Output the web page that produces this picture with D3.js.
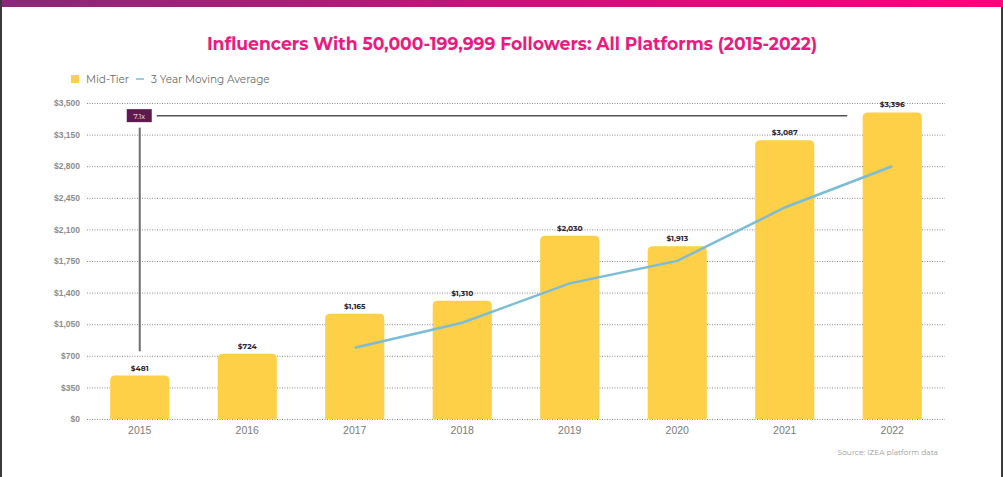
<!DOCTYPE html>
<html>
<head>
<meta charset="utf-8">
<script src="https://cdn.jsdelivr.net/npm/d3@7"></script>
<style>
  body { margin: 0; background: #fff; }
  svg { display: block; font-family: 'Montserrat', 'Lato', 'Open Sans', sans-serif; }
</style>
</head>
<body>
<div class="chart"></div>
<script>
'use strict'

// Data.
const years = ['2015', '2016', '2017', '2018', '2019', '2020', '2021', '2022'];
const midTier = [481, 724, 1165, 1310, 2030, 1913, 3087, 3396];
const movingAvgYears = ['2017', '2018', '2019', '2020', '2021', '2022'];
const movingAvg = [790, 1066, 1502, 1751, 2343, 2799];
const yTicks = [0, 350, 700, 1050, 1400, 1750, 2100, 2450, 2800, 3150, 3500];

let W = 1003, H = 477;
let margin = {top: 103, right: 58, bottom: 58, left: 87};

let svg = d3.select('.chart')
    .append('svg')
    .attr('width', W)
    .attr('height', H);

// Frame: gradient strip on top, dark edges.
let defs = svg.append('defs');
let grad = defs.append('linearGradient').attr('id', 'topbar');
grad.append('stop').attr('offset', '0%').attr('stop-color', '#8a2878');
grad.append('stop').attr('offset', '100%').attr('stop-color', '#ff007c');
svg.append('rect').attr('x', 0).attr('y', 0).attr('width', W).attr('height', 7).attr('fill', 'url(#topbar)');
svg.append('rect').attr('x', 0).attr('y', 0).attr('width', 2).attr('height', H).attr('fill', '#3a3a3a');
svg.append('rect').attr('x', W - 2).attr('y', 7).attr('width', 2).attr('height', H).attr('fill', '#3a3a3a');

// Title.
svg.append('text')
    .attr('x', 512).attr('y', 50)
    .attr('text-anchor', 'middle')
    .style('font-size', '17.2px').style('font-weight', 700)
    .style('fill', '#ea1a80')
    .text('Influencers With 50,000-199,999 Followers: All Platforms (2015-2022)');

// Legend.
let legend = svg.append('g').attr('transform', 'translate(71,75)');
legend.append('rect').attr('width', 8).attr('height', 8).attr('fill', '#fdd047');
legend.append('text').attr('x', 15).attr('y', 8).style('font-size', '10.5px').style('fill', '#6a6a6a').text('Mid-Tier');
legend.append('line').attr('x1', 65).attr('x2', 73).attr('y1', 4).attr('y2', 4).attr('stroke', '#7bbcd6').attr('stroke-width', 1.5);
legend.append('text').attr('x', 80).attr('y', 8).style('font-size', '10.5px').style('fill', '#6a6a6a').text('3 Year Moving Average');

// Scales.
let x = d3.scaleBand()
    .domain(years)
    .range([86, 946])
    .paddingInner(0.45)
    .paddingOuter(0.225);

let y = d3.scaleLinear()
    .domain([0, 3500])
    .range([H - margin.bottom, margin.top]);

// Y axis with dotted grid lines.
let yAxis = d3.axisLeft(y)
    .tickValues(yTicks)
    .tickSize(-(W - margin.right - margin.left))
    .tickPadding(7)
    .tickFormat(d => '$' + d3.format(',')(d));

svg.append('g')
    .attr('class', 'axis yAxis')
    .attr('transform', `translate(${margin.left},0)`)
    .call(yAxis)
    .call(g => g.select('.domain').remove())
    .call(g => g.selectAll('.tick line')
        .attr('stroke', '#8a8a8a')
        .attr('stroke-dasharray', '1,1.5'))
    .call(g => g.selectAll('.tick text')
        .style('font-size', '8.5px').style('font-weight', 600)
        .style('fill', '#8c8c8c').style('font-family', 'inherit'));

// X axis labels.
svg.append('g')
    .attr('class', 'axis xAxis')
    .attr('transform', `translate(0,${H - margin.bottom})`)
    .call(d3.axisBottom(x).tickSize(0).tickPadding(8))
    .call(g => g.select('.domain').remove())
    .call(g => g.selectAll('.tick text')
        .style('font-size', '10.5px')
        .style('fill', '#7a7a7a').style('font-family', 'inherit'));

// Bars with rounded tops.
let r = 5;
function barPath(d, i) {
    let x0 = x(years[i]), x1 = x0 + x.bandwidth();
    let y0 = y(0), y1 = y(d);
    return `M${x0},${y0}V${y1 + r}Q${x0},${y1} ${x0 + r},${y1}H${x1 - r}Q${x1},${y1} ${x1},${y1 + r}V${y0}Z`;
}

svg.append('g')
    .attr('class', 'bars')
    .selectAll('path')
    .data(midTier)
    .join('path')
    .attr('d', barPath)
    .attr('fill', '#fdd047');

// Value labels.
svg.append('g')
    .attr('class', 'valueLabels')
    .selectAll('text')
    .data(midTier)
    .join('text')
    .attr('x', (d, i) => x(years[i]) + x.bandwidth() / 2)
    .attr('y', d => y(d) - 5)
    .attr('text-anchor', 'middle')
    .style('font-size', '7.5px').style('font-weight', 700)
    .style('fill', '#2b2233')
    .text(d => '$' + d3.format(',')(d));

// Moving average line.
let line = d3.line()
    .x((d, i) => x(movingAvgYears[i]) + x.bandwidth() / 2)
    .y(d => y(d));

svg.append('path')
    .datum(movingAvg)
    .attr('d', line)
    .attr('fill', 'none')
    .attr('stroke', '#7bbcd6')
    .attr('stroke-width', 2.5);

// 7.1x growth annotation.
let cx0 = x(years[0]) + x.bandwidth() / 2;
let cxN = x(years[years.length - 1]) + x.bandwidth() / 2;
let annY = y(3360);

svg.append('line')
    .attr('x1', cx0).attr('x2', cx0)
    .attr('y1', annY + 12).attr('y2', y(750))
    .attr('stroke', '#6e6e6e').attr('stroke-width', 2);

svg.append('line')
    .attr('x1', cx0 + 17).attr('x2', cxN - 45)
    .attr('y1', annY).attr('y2', annY)
    .attr('stroke', '#555').attr('stroke-width', 1.5);

svg.append('rect')
    .attr('x', cx0 - 13).attr('y', annY - 6.5)
    .attr('width', 25).attr('height', 13)
    .attr('fill', '#5e1a4e');

svg.append('text')
    .attr('x', cx0 - 0.5).attr('y', annY + 3)
    .attr('text-anchor', 'middle')
    .style('font-size', '7px').style('fill', '#fff')
    .text('7.1x');

// Source.
svg.append('text')
    .attr('x', 938).attr('y', 455)
    .attr('text-anchor', 'end')
    .style('font-size', '7.5px').style('fill', '#9a9a9a')
    .text('Source: IZEA platform data');
</script>
</body>
</html>
